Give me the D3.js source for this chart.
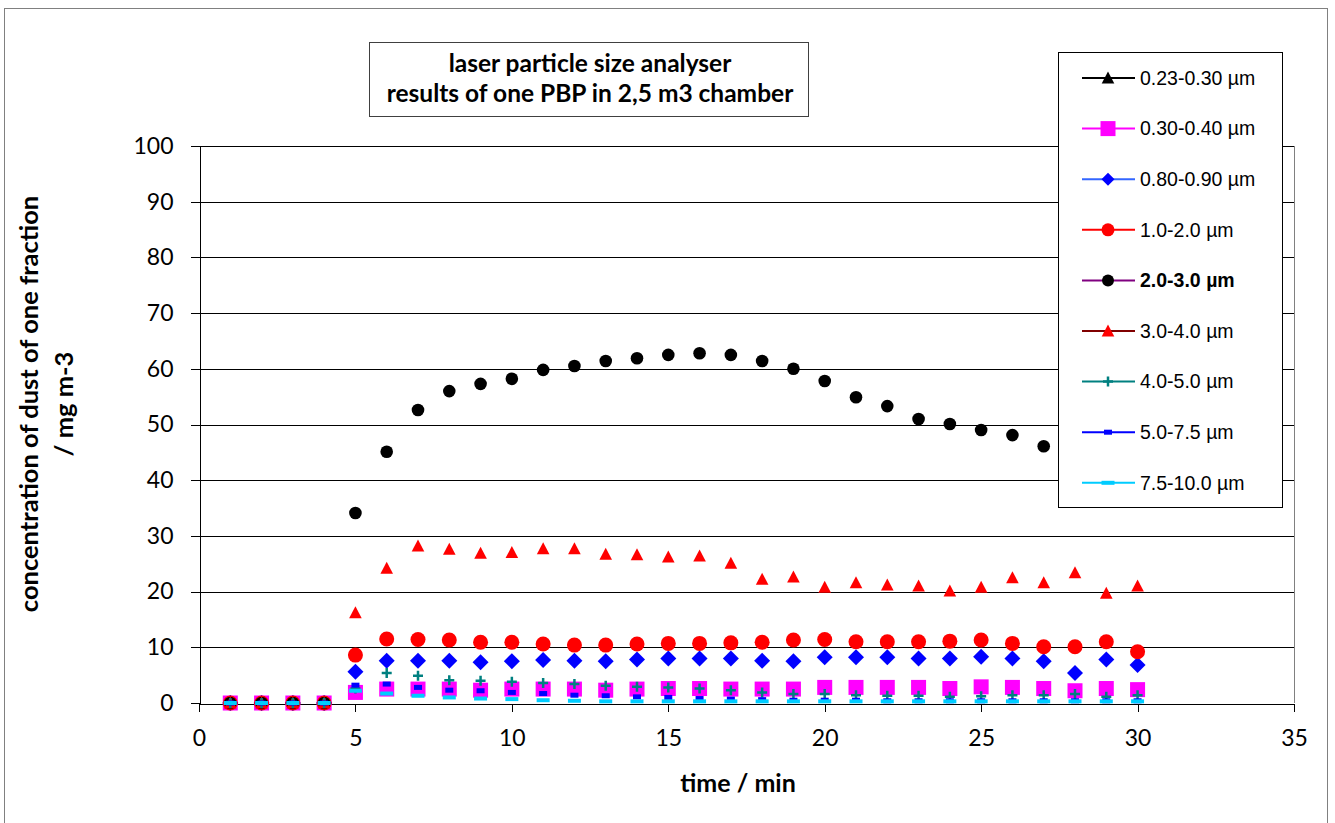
<!DOCTYPE html>
<html>
<head>
<meta charset="utf-8">
<script src="https://cdn.jsdelivr.net/npm/d3@7"></script>
<style>
  body { margin: 0; background: #fff; }
  svg { display: block; }
  .tick text { font-family: Lato, 'Open Sans', sans-serif; font-size: 23px; fill: #000; }
  .axis path, .axis line { stroke: #000; shape-rendering: crispEdges; }
  .grid line { stroke: #000; shape-rendering: crispEdges; }
</style>
</head>
<body>
<svg id="chart"></svg>
<script>
'use strict';

// time in minutes
var times = [1, 2, 3, 4, 5, 6, 7, 8, 9, 10, 11, 12, 13, 14, 15, 16, 17, 18, 19, 20, 21, 22, 23, 24, 25, 26, 27, 28, 29, 30];

// concentration per fraction, mg m-3
var f023_030 = [0, 0, 0, 0, null, null, null, null, null, null, null, null, null, null, null, null, null, null, null, null, null, null, null, null, null, null, null, null, null, null];
var f030_040 = [0, 0, 0, 0, 1.9, 2.5, 2.5, 2.5, 2.3, 2.5, 2.5, 2.5, 2.3, 2.5, 2.6, 2.6, 2.5, 2.5, 2.5, 2.8, 2.8, 2.8, 2.8, 2.6, 2.9, 2.8, 2.6, 2.2, 2.6, 2.4];
var f080_090 = [0, 0, 0, 0, 5.6, 7.6, 7.6, 7.6, 7.3, 7.5, 7.7, 7.6, 7.5, 7.8, 8.0, 8.0, 8.0, 7.6, 7.5, 8.2, 8.2, 8.2, 8.0, 8.0, 8.3, 8.0, 7.5, 5.4, 7.8, 6.8];
var f10_20 = [0, 0, 0, 0, 8.6, 11.5, 11.4, 11.3, 10.9, 10.9, 10.6, 10.4, 10.4, 10.6, 10.7, 10.7, 10.8, 10.9, 11.3, 11.4, 11.0, 11.0, 11.0, 11.1, 11.3, 10.7, 10.1, 10.1, 11.0, 9.2];
var f20_30 = [0, 0, 0, 0, 34.1, 45.1, 52.6, 56.0, 57.3, 58.2, 59.8, 60.5, 61.4, 61.9, 62.5, 62.8, 62.5, 61.4, 60.0, 57.8, 54.9, 53.3, 51.0, 50.1, 49.0, 48.1, 46.1, 45.0, 44.0, 43.0];
var f30_40 = [0, 0, 0, 0, 16.2, 24.2, 28.2, 27.6, 26.9, 27.0, 27.7, 27.7, 26.7, 26.6, 26.2, 26.4, 25.1, 22.2, 22.6, 20.8, 21.6, 21.2, 21.0, 20.1, 20.8, 22.5, 21.6, 23.4, 19.7, 21.0];
var f40_50 = [0, 0, 0, 0, 2.6, 5.4, 4.9, 4.1, 4.0, 3.8, 3.6, 3.4, 3.1, 2.9, 2.8, 2.6, 2.3, 1.9, 1.6, 1.6, 1.4, 1.3, 1.3, 1.1, 1.2, 1.4, 1.4, 1.6, 1.1, 1.4];
var f50_75 = [0, 0, 0, 0, 3.2, 3.4, 2.8, 2.3, 2.2, 1.9, 1.7, 1.4, 1.3, 1.1, 1.0, 0.8, 0.7, 0.6, 0.5, 0.5, 0.5, 0.4, 0.4, 0.4, 0.4, 0.4, 0.4, 0.4, 0.4, 0.4];
var f75_100 = [0, 0, 0, 0, 2.2, 1.7, 1.3, 1.0, 0.8, 0.7, 0.5, 0.4, 0.3, 0.3, 0.3, 0.3, 0.3, 0.3, 0.3, 0.3, 0.3, 0.3, 0.3, 0.3, 0.3, 0.3, 0.3, 0.3, 0.3, 0.3];

var seriesNames = ['0.23-0.30 µm', '0.30-0.40 µm', '0.80-0.90 µm', '1.0-2.0 µm', '2.0-3.0 µm',
  '3.0-4.0 µm', '4.0-5.0 µm', '5.0-7.5 µm', '7.5-10.0 µm'];

var xTicks = [0, 5, 10, 15, 20, 25, 30, 35];
var yTicks = [0, 10, 20, 30, 40, 50, 60, 70, 80, 90, 100];

var titleLines = ['laser particle size analyser', 'results of one PBP in 2,5 m3 chamber'];
var yTitleLines = ['concentration of dust of one fraction', '/ mg m-3'];
var xTitle = 'time / min';

// marker look per series (kept apart from the data)
var STYLES = [
  { marker: 'triangle', fill: '#000000', line: '#000000' },
  { marker: 'square', fill: '#FF00FF', line: '#FF00FF' },
  { marker: 'diamond', fill: '#0000FF', line: '#3366FF' },
  { marker: 'bigcircle', fill: '#FF0000', line: '#FF0000' },
  { marker: 'circle', fill: '#000000', line: '#800080', bold: true },
  { marker: 'triangle', fill: '#FF0000', line: '#800000' },
  { marker: 'plus', fill: '#008080', line: '#008080' },
  { marker: 'smalldash', fill: '#0000FF', line: '#0000FF' },
  { marker: 'dash', fill: '#00CCFF', line: '#00CCFF' }
];

var seriesValues = [f023_030, f030_040, f080_090, f10_20, f20_30, f30_40, f40_50, f50_75, f75_100];

var W = 1335, H = 823,
  PLOT = { left: 199, right: 1294, top: 146, bottom: 703 },
  TITLE_FONT = "Lato, 'Open Sans', sans-serif";

var svg = d3.select('#chart').attr('width', W).attr('height', H);

// outer chart border
svg.append('rect')
  .attr('x', 4.5).attr('y', 8.5)
  .attr('width', 1323).attr('height', 830)
  .attr('fill', '#fff').attr('stroke', '#808080');

var xScale = d3.scaleLinear().domain([0, 35]).range([PLOT.left, PLOT.right]);
var yScale = d3.scaleLinear().domain([0, 100]).range([PLOT.bottom, PLOT.top]);

// gridlines
svg.append('g')
  .attr('class', 'grid')
  .selectAll('line')
  .data(yTicks.filter(function(t) { return t > 0; }))
  .enter().append('line')
  .attr('x1', PLOT.left).attr('x2', PLOT.right)
  .attr('y1', function(d) { return Math.round(yScale(d)) + 0.5; })
  .attr('y2', function(d) { return Math.round(yScale(d)) + 0.5; });

// right plot border
svg.append('line')
  .attr('x1', PLOT.right + 0.5).attr('x2', PLOT.right + 0.5)
  .attr('y1', PLOT.top).attr('y2', PLOT.bottom)
  .attr('stroke', '#808080');

// axes
var xAxis = d3.axisBottom(xScale)
  .tickValues(xTicks)
  .tickSize(8)
  .tickSizeOuter(0)
  .tickPadding(18);

var yAxis = d3.axisLeft(yScale)
  .tickValues(yTicks)
  .tickSize(9)
  .tickSizeOuter(0)
  .tickPadding(17);

svg.append('g')
  .attr('class', 'x axis')
  .attr('transform', 'translate(0,' + (PLOT.bottom + 0.5) + ')')
  .call(xAxis);

svg.append('g')
  .attr('class', 'y axis')
  .attr('transform', 'translate(' + (PLOT.left + 0.5) + ',0)')
  .call(yAxis);

// marker shapes
function drawMarker(g, type, fill, legend) {
  if (type === 'triangle') {
    g.append('path').attr('d', 'M0,-6.5L6.3,5.5L-6.3,5.5Z').attr('fill', fill);
  } else if (type === 'square') {
    g.append('rect').attr('x', -7.5).attr('y', -7.5).attr('width', 15).attr('height', 15).attr('fill', fill);
  } else if (type === 'diamond') {
    var r = legend ? 6.5 : 8;
    g.append('path').attr('d', 'M0,' + (-r) + 'L' + r + ',0L0,' + r + 'L' + (-r) + ',0Z').attr('fill', fill);
  } else if (type === 'bigcircle') {
    g.append('circle').attr('r', legend ? 6.5 : 7.5).attr('fill', fill);
  } else if (type === 'circle') {
    g.append('circle').attr('r', legend ? 6 : 6.3).attr('fill', fill);
  } else if (type === 'plus') {
    g.append('path').attr('d', 'M-5,0H5M0,-5V5').attr('stroke', fill).attr('stroke-width', 2.5).attr('fill', 'none');
  } else if (type === 'smalldash') {
    g.append('rect').attr('x', -4).attr('y', -2.5).attr('width', 8).attr('height', 5).attr('fill', fill);
  } else if (type === 'dash') {
    g.append('rect').attr('x', -6.5).attr('y', -2).attr('width', 13).attr('height', 4).attr('fill', fill);
  }
}

// points
var marks = svg.append('g').attr('class', 'marks');
seriesValues.forEach(function(values, si) {
  var style = STYLES[si];
  var pts = times.map(function(t, i) { return { t: t, v: values[i] }; })
    .filter(function(d) { return d.v !== null; });
  marks.append('g')
    .selectAll('g')
    .data(pts)
    .enter().append('g')
    .attr('transform', function(d) { return 'translate(' + xScale(d.t) + ',' + yScale(d.v) + ')'; })
    .each(function() { drawMarker(d3.select(this), style.marker, style.fill, false); });
});

// title box
var titleBox = svg.append('g');
titleBox.append('rect')
  .attr('x', 369.5).attr('y', 42.5).attr('width', 439).attr('height', 74)
  .attr('fill', '#fff').attr('stroke', '#404040');
titleBox.selectAll('text')
  .data(titleLines)
  .enter().append('text')
  .attr('x', 590)
  .attr('y', function(d, i) { return 72 + i * 30; })
  .attr('text-anchor', 'middle')
  .style('font-family', TITLE_FONT)
  .style('font-weight', 'bold')
  .style('font-size', '24.5px')
  .text(function(d) { return d; });

// legend
var legend = svg.append('g');
legend.append('rect')
  .attr('x', 1058.5).attr('y', 52.5).attr('width', 224).attr('height', 455)
  .attr('fill', '#fff').attr('stroke', '#000');

var items = legend.selectAll('g.item')
  .data(seriesNames)
  .enter().append('g')
  .attr('class', 'item')
  .attr('transform', function(d, i) { return 'translate(0,' + (78 + i * 50.6) + ')'; });

items.append('line')
  .attr('x1', 1082).attr('x2', 1135)
  .attr('stroke', function(d, i) { return STYLES[i].line; })
  .attr('stroke-width', 2);

items.append('g')
  .attr('transform', 'translate(1108,0)')
  .each(function(d, i) { drawMarker(d3.select(this), STYLES[i].marker, STYLES[i].fill, true); });

items.append('text')
  .attr('x', 1140)
  .attr('dy', '0.35em')
  .style('font-family', "'Liberation Sans', Arial, sans-serif")
  .style('font-size', '19.5px')
  .style('font-weight', function(d, i) { return STYLES[i].bold ? 'bold' : 'normal'; })
  .text(function(d) { return d; });

// axis titles
svg.selectAll('text.ytitle')
  .data(yTitleLines)
  .enter().append('text')
  .attr('class', 'ytitle')
  .attr('transform', function(d, i) { return 'translate(' + (38 + i * 35) + ',404) rotate(-90)'; })
  .attr('text-anchor', 'middle')
  .style('font-family', TITLE_FONT)
  .style('font-weight', 'bold')
  .style('font-size', '25.5px')
  .text(function(d) { return d; });

svg.append('text')
  .attr('x', 738)
  .attr('y', 792)
  .attr('text-anchor', 'middle')
  .style('font-family', TITLE_FONT)
  .style('font-weight', 'bold')
  .style('font-size', '25px')
  .text(xTitle);
</script>
</body>
</html>
